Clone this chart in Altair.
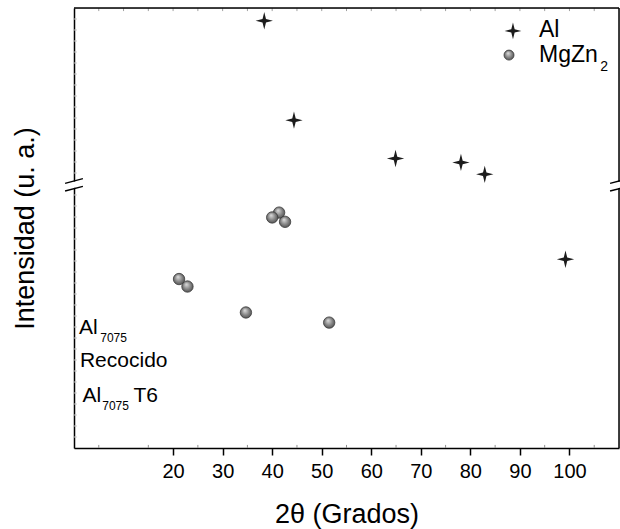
import altair as alt
import pandas as pd

# ---- data ----
al_x = [38.4, 44.4, 64.9, 78.1, 82.9, 99.2]
al_y = [97.1, 74.5, 65.8, 64.9, 62.2, 42.9]
mg_x = [41.4, 40.0, 42.6, 21.2, 22.9, 34.7, 51.5]
mg_y = [53.5, 52.4, 51.4, 38.4, 36.7, 30.8, 28.5]
x_ticks = [20, 30, 40, 50, 60, 70, 80, 90, 100]
x_minor_bottom = [5, 15, 25, 35, 45, 55, 65, 75, 85, 95, 105]
x_minor_top = [5, 10, 15, 20, 25, 30, 35, 40, 45, 50, 55, 60, 65, 70, 75, 80, 85, 90, 95, 100, 105]
y_minor = [i * 2.5 for i in range(1, 40)]

al_df = pd.DataFrame({"x": al_x, "y": al_y})
mg_df = pd.DataFrame({"x": mg_x, "y": mg_y})
bot_df = pd.DataFrame({"x": x_minor_bottom, "y": [0.0] * len(x_minor_bottom),
                       "y2": [0.7] * len(x_minor_bottom)})
top_df = pd.DataFrame({"x": x_minor_top, "y": [100.0] * len(x_minor_top),
                       "y2": [99.3] * len(x_minor_top)})
left_df = pd.DataFrame({"y": y_minor, "x": [0.0] * len(y_minor),
                        "x2": [0.6] * len(y_minor)})

FONT = "Liberation Sans"
W, H = 545, 440
xs = alt.Scale(domain=[0, 110], nice=False, zero=False)
ys = alt.Scale(domain=[0, 100], nice=False, zero=False)

STAR = ("M0,-1 L0.2,-0.2 L1,0 L0.2,0.2 L0,1 L-0.2,0.2 L-1,0 L-0.2,-0.2 Z")
BALL = alt.RadialGradient(
    gradient="radial",
    stops=[alt.GradientStop(color="#e0e0e0", offset=0),
           alt.GradientStop(color="#858585", offset=0.55),
           alt.GradientStop(color="#444444", offset=1)],
    x1=0.4, y1=0.3, r1=0, x2=0.5, y2=0.5, r2=0.6)

ONE = alt.Data(values=[{"a": 1}])

# ---- axes ----
ax_main = alt.Chart(al_df).mark_point(opacity=0).encode(
    x=alt.X("x:Q", scale=xs, axis=alt.Axis(
        values=x_ticks, format="d", grid=False, orient="bottom",
        tickSize=7, tickWidth=1.5, tickColor="black",
        domainColor="black", domainWidth=1.5,
        labelFontSize=20, labelColor="black", labelFont=FONT, labelPadding=6,
        labelFlush=False,
        title="2θ (Grados)", titleFont=FONT, titleFontSize=27,
        titleFontWeight="normal", titleColor="black",
        titleX=W / 2, titleY=74, titleBaseline="alphabetic", titleAlign="center")),
    y=alt.Y("y:Q", scale=ys, axis=alt.Axis(
        orient="left", grid=False, ticks=False, labels=False,
        domainColor="black", domainWidth=1.5,
        title="Intensidad (u. a.)", titleFont=FONT, titleFontSize=27,
        titleFontWeight="normal", titleColor="black",
        titleX=-41, titleY=H / 2, titleAngle=270,
        titleBaseline="alphabetic", titleAlign="center")),
)

# inner minor ticks
bot_ticks = alt.Chart(bot_df).mark_rule(color="#909090", strokeWidth=1).encode(
    x=alt.X("x:Q", scale=xs), y=alt.Y("y:Q", scale=ys), y2="y2:Q")
top_ticks = alt.Chart(top_df).mark_rule(color="#a0a0a0", strokeWidth=1).encode(
    x=alt.X("x:Q", scale=xs), y=alt.Y("y:Q", scale=ys), y2="y2:Q")
left_ticks = alt.Chart(left_df).mark_rule(color="#c8c8c8", strokeWidth=1).encode(
    y=alt.Y("y:Q", scale=ys), x=alt.X("x:Q", scale=xs), x2="x2:Q")


def seg(x1, x2, y1, y2, color, width):
    return alt.Chart(ONE).mark_rule(
        color=color, strokeWidth=width, clip=False).encode(
        x=alt.XDatum(x1, scale=xs),
        x2=alt.X2Datum(x2),
        y=alt.YDatum(y1, scale=ys),
        y2=alt.Y2Datum(y2))


# frame: top and right edges as full-span rules (drawn after the points)
top_edge = alt.Chart(ONE).mark_rule(color="black", strokeWidth=1.5).encode(
    y=alt.YDatum(100))
right_edge = alt.Chart(ONE).mark_rule(color="black", strokeWidth=1.5).encode(
    x=alt.XDatum(110))

breaks = []
for (a, b) in [(-1.8, 1.8), (108.2, 111.8)]:
    breaks.append(seg(a, b, 59.28, 60.34, "white", 6))
for (a, b) in [(-1.8, 1.8), (108.2, 111.8)]:
    breaks.append(seg(a, b, 60.15, 61.21, "black", 1.4))
    breaks.append(seg(a, b, 58.40, 59.46, "black", 1.4))

balls = alt.Chart(mg_df).mark_point(
    filled=True, fill=BALL, stroke="#3a3a3a", strokeWidth=0.8, opacity=1,
    size=130, shape="circle").encode(
    x=alt.X("x:Q", scale=xs), y=alt.Y("y:Q", scale=ys))

stars = alt.Chart(al_df).mark_point(
    filled=True, color="#1c1c1c", opacity=1, size=300, shape=STAR).encode(
    x=alt.X("x:Q", scale=xs), y=alt.Y("y:Q", scale=ys))

leg_star = alt.Chart(ONE).mark_point(
    filled=True, color="#1c1c1c", opacity=1, size=280, shape=STAR).encode(
    x=alt.XDatum(88.6, scale=xs), y=alt.YDatum(94.8, scale=ys))
leg_ball = alt.Chart(ONE).mark_point(
    filled=True, fill=BALL, stroke="#3a3a3a", strokeWidth=0.8, opacity=1,
    size=100, shape="circle").encode(
    x=alt.XDatum(87.8, scale=xs), y=alt.YDatum(89.3, scale=ys))


def label(txt, x, y, size):
    return alt.Chart(ONE).mark_text(
        text=txt, font=FONT, fontSize=size, color="black",
        align="left", baseline="alphabetic").encode(
        x=alt.XDatum(x, scale=xs), y=alt.YDatum(y, scale=ys))


texts = [
    label("Al", 93.85, 93.3, 23),
    label("MgZn", 93.85, 87.8, 23),
    label("2", 106.2, 85.7, 14),
    label("Al", 1.0, 25.9, 21),
    label("7075", 5.3, 24.0, 12),
    label("Recocido", 1.2, 18.5, 21),
    label("Al", 1.7, 10.5, 21),
    label("7075", 5.7, 8.6, 12),
    label("T6", 12.0, 10.5, 21),
]

chart = alt.layer(
    ax_main, bot_ticks, top_ticks, left_ticks,
    balls, stars, leg_star, leg_ball, *texts,
    top_edge, right_edge, *breaks,
).properties(
    width=W, height=H,
    autosize=alt.AutoSizeParams(type="none"),
    padding={"left": 74, "top": 8, "right": 1, "bottom": 81},
).configure_view(stroke=None).configure(background="white")

chart.save("out.html", embed_options={"renderer": "svg", "actions": False})
